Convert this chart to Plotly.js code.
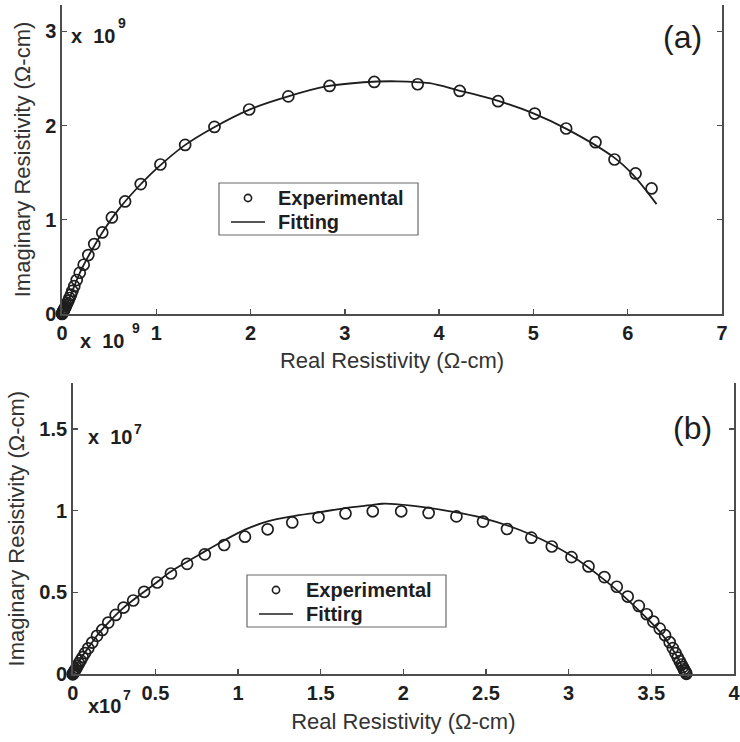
<!DOCTYPE html>
<html>
<head>
<meta charset="utf-8">
<script src="https://cdn.plot.ly/plotly-3.0.1.min.js"></script>
<style>
  html, body { margin: 0; padding: 0; background: #fff; }
  #chart { width: 740px; height: 742px; }
</style>
</head>
<body>
<div id="chart"></div>
<script>
// Panel (a): impedance data, both axes in units of 1e9 ohm-cm
const realA = [0, 0.002, 0.004, 0.007, 0.011, 0.015, 0.020, 0.026, 0.032, 0.039, 0.047, 0.057, 0.068, 0.080, 0.095, 0.110, 0.130, 0.156, 0.188, 0.230, 0.279, 0.342, 0.427, 0.529, 0.669, 0.835, 1.044, 1.306, 1.617, 1.985, 2.400, 2.838, 3.312, 3.772, 4.218, 4.625, 5.014, 5.347, 5.658, 5.860, 6.083, 6.253];
const imagA = [0, 0.004, 0.009, 0.015, 0.023, 0.031, 0.041, 0.052, 0.065, 0.080, 0.097, 0.118, 0.142, 0.170, 0.205, 0.245, 0.295, 0.361, 0.438, 0.523, 0.626, 0.742, 0.866, 1.025, 1.195, 1.379, 1.587, 1.795, 1.986, 2.171, 2.310, 2.421, 2.463, 2.439, 2.368, 2.259, 2.128, 1.969, 1.824, 1.640, 1.492, 1.333];
const fitRealA = [0, 0.02, 0.06, 0.12, 0.20, 0.30, 0.45, 0.60, 0.80, 1.00, 1.30, 1.60, 2.00, 2.40, 2.80, 3.20, 3.55, 3.90, 4.20, 4.60, 5.00, 5.36, 5.85, 6.06, 6.306];
const fitImagA = [0, 0.04, 0.125, 0.27, 0.46, 0.65, 0.90, 1.11, 1.34, 1.54, 1.79, 1.975, 2.175, 2.31, 2.415, 2.46, 2.47, 2.45, 2.375, 2.27, 2.13, 1.96, 1.665, 1.474, 1.166];

// Panel (b): impedance data, both axes in units of 1e7 ohm-cm
const realB = [0, 0.002, 0.005, 0.008, 0.012, 0.017, 0.023, 0.030, 0.038, 0.048, 0.060, 0.075, 0.094, 0.118, 0.147, 0.179, 0.215, 0.260, 0.308, 0.366, 0.432, 0.511, 0.594, 0.692, 0.799, 0.916, 1.042, 1.179, 1.328, 1.487, 1.650, 1.815, 1.987, 2.153, 2.321, 2.482, 2.627, 2.774, 2.898, 3.017, 3.120, 3.216, 3.291, 3.357, 3.424, 3.472, 3.512, 3.551, 3.583, 3.611, 3.630, 3.646, 3.660, 3.672, 3.682, 3.690, 3.697, 3.703, 3.708, 3.712];
const imagB = [0, 0.003, 0.008, 0.014, 0.021, 0.030, 0.040, 0.052, 0.067, 0.085, 0.105, 0.130, 0.159, 0.194, 0.235, 0.271, 0.316, 0.363, 0.408, 0.451, 0.504, 0.561, 0.616, 0.675, 0.733, 0.790, 0.841, 0.886, 0.928, 0.959, 0.983, 0.996, 0.996, 0.986, 0.965, 0.933, 0.888, 0.835, 0.781, 0.716, 0.659, 0.594, 0.535, 0.475, 0.418, 0.367, 0.322, 0.279, 0.239, 0.196, 0.160, 0.130, 0.102, 0.080, 0.060, 0.044, 0.031, 0.020, 0.010, 0.003];
const fitRealB = [0, 0.02, 0.05, 0.10, 0.15, 0.22, 0.30, 0.40, 0.50, 0.594, 0.799, 0.916, 1.042, 1.179, 1.328, 1.49, 1.65, 1.815, 1.87, 1.95, 2.153, 2.482, 2.774, 3.017, 3.216, 3.357, 3.472, 3.551, 3.611, 3.667, 3.697, 3.705];
const fitImagB = [0, 0.05, 0.10, 0.17, 0.24, 0.32, 0.40, 0.48, 0.555, 0.628, 0.751, 0.818, 0.884, 0.934, 0.965, 0.99, 1.016, 1.035, 1.042, 1.040, 1.017, 0.955, 0.853, 0.724, 0.577, 0.455, 0.343, 0.261, 0.179, 0.088, 0.016, 0];

// Tick labels
const xTicksA = [0, 1, 2, 3, 4, 5, 6, 7];
const yTicksA = [0, 1, 2, 3];
const xTicksB = [0, 0.5, 1, 1.5, 2, 2.5, 3, 3.5, 4];
const yTicksB = [0, 0.5, 1, 1.5];

// Legend entries
const legendNamesA = ['Experimental', 'Fitting'];
const legendNamesB = ['Experimental', 'Fittirg'];

const W = 740, H = 742;
const px = v => v / W;          // pixel column -> paper x
const py = v => 1 - v / H;      // pixel row    -> paper y

const FONT = 'Liberation Sans, Arial, Helvetica, sans-serif';
const INK = '#1e1e1e';
const AXIS = '#4d4d4d';

const markerStyle = { symbol: 'circle-open', size: 11, color: INK, line: { width: 1.7, color: INK } };
const lineStyle = { color: INK, width: 1.8, shape: 'spline', smoothing: 0.8 };

const traces = [
  { x: realA, y: imagA, xaxis: 'x', yaxis: 'y', mode: 'markers', name: legendNamesA[0],
    marker: markerStyle, cliponaxis: false, showlegend: false },
  { x: fitRealA, y: fitImagA, xaxis: 'x', yaxis: 'y', mode: 'lines', name: legendNamesA[1],
    line: lineStyle, cliponaxis: false, showlegend: false },
  { x: realB, y: imagB, xaxis: 'x2', yaxis: 'y2', mode: 'markers', name: legendNamesB[0],
    marker: markerStyle, cliponaxis: false, showlegend: false },
  { x: fitRealB, y: fitImagB, xaxis: 'x2', yaxis: 'y2', mode: 'lines', name: legendNamesB[1],
    line: lineStyle, cliponaxis: false, showlegend: false }
];

const tickFont = { family: FONT, size: 20, weight: 700, color: INK };
const titleFont = { family: FONT, size: 22, color: '#333' };

function axisBase(extra) {
  return Object.assign({
    showline: true, linecolor: AXIS, linewidth: 1.6,
    ticks: 'inside', ticklen: 5, tickwidth: 1.4, tickcolor: AXIS,
    showgrid: false, zeroline: false, fixedrange: true,
    tickfont: tickFont, tickmode: 'array', ticklabeloverflow: 'allow'
  }, extra);
}

function text(t, x, y, size, opts) {
  return Object.assign({
    xref: 'paper', yref: 'paper', x: px(x), y: py(y), xanchor: 'left', yanchor: 'middle',
    text: t, showarrow: false, borderpad: 0,
    font: { family: FONT, size: size, weight: 700, color: INK }
  }, opts || {});
}

// Boxed key: circle sample, line sample and two bold labels
function legendBox(left, top, names) {
  const shapes = [
    { type: 'rect', xref: 'paper', yref: 'paper', layer: 'above',
      x0: px(left), x1: px(left + 199), y0: py(top), y1: py(top + 52),
      line: { color: '#6a6a6a', width: 1.2 }, fillcolor: '#fff' },
    { type: 'circle', xref: 'paper', yref: 'paper', layer: 'above',
      xsizemode: 'pixel', ysizemode: 'pixel', xanchor: px(left + 29), yanchor: py(top + 15),
      x0: -3.6, x1: 3.6, y0: -3.6, y1: 3.6, line: { color: INK, width: 1.6 } },
    { type: 'line', xref: 'paper', yref: 'paper', layer: 'above',
      x0: px(left + 12), x1: px(left + 46), y0: py(top + 39), y1: py(top + 39),
      line: { color: INK, width: 1.6 } }
  ];
  const notes = [
    text(names[0], left + 58, top + 15, 20),
    text(names[1], left + 58, top + 39, 20)
  ];
  return { shapes, notes };
}

const keyA = legendBox(219, 183, legendNamesA);
const keyB = legendBox(247, 575, legendNamesB);

const layout = {
  width: W, height: H,
  margin: { l: 0, r: 0, t: 0, b: 0 },
  paper_bgcolor: '#fff', plot_bgcolor: '#fff',
  showlegend: false,
  xaxis: axisBase({
    domain: [px(62), px(722)], range: [0, 7], anchor: 'y', mirror: false,
    tickvals: xTicksA, ticktext: xTicksA.map(String), ticklabelstandoff: 0,
    title: { text: 'Real Resistivity (Ω-cm)', font: titleFont, standoff: 10 }
  }),
  yaxis: axisBase({
    domain: [py(314), py(5)], range: [0, 3.28], anchor: 'x', mirror: 'ticks',
    tickvals: yTicksA, ticktext: yTicksA.map(String), ticklabelstandoff: 0,
    title: { text: 'Imaginary Resistivity (Ω-cm)', font: titleFont, standoff: 8 }
  }),
  xaxis2: axisBase({
    domain: [px(72.7), px(734)], range: [0, 4], anchor: 'y2', mirror: false,
    tickvals: xTicksB, ticktext: xTicksB.map(String), ticklabelstandoff: 0,
    title: { text: 'Real Resistivity (Ω-cm)', font: titleFont, standoff: 10 }
  }),
  yaxis2: axisBase({
    domain: [py(674.3), py(383)], range: [0, 1.78], anchor: 'x2', mirror: 'ticks',
    tickvals: yTicksB, ticktext: yTicksB.map(String), ticklabelstandoff: 0,
    title: { text: 'Imaginary Resistivity (Ω-cm)', font: titleFont, standoff: 8 }
  }),
  shapes: keyA.shapes.concat(keyB.shapes),
  annotations: [
    // axis multipliers
    text('x  10', 70, 36, 20), text('9', 117, 23, 14),
    text('x  10', 79, 341, 20), text('9', 131, 328, 14),
    text('x  10', 87, 437, 20), text('7', 133, 429, 14),
    text('x10', 87, 706, 20), text('7', 122, 695, 14),
    // panel labels
    text('(a)', 682, 37, 32, { xanchor: 'center', font: { family: FONT, size: 32, color: INK } }),
    text('(b)', 692, 428, 32, { xanchor: 'center', font: { family: FONT, size: 32, color: INK } })
  ].concat(keyA.notes, keyB.notes)
};

Plotly.newPlot('chart', traces, layout, { displayModeBar: false, staticPlot: true });
</script>
</body>
</html>
